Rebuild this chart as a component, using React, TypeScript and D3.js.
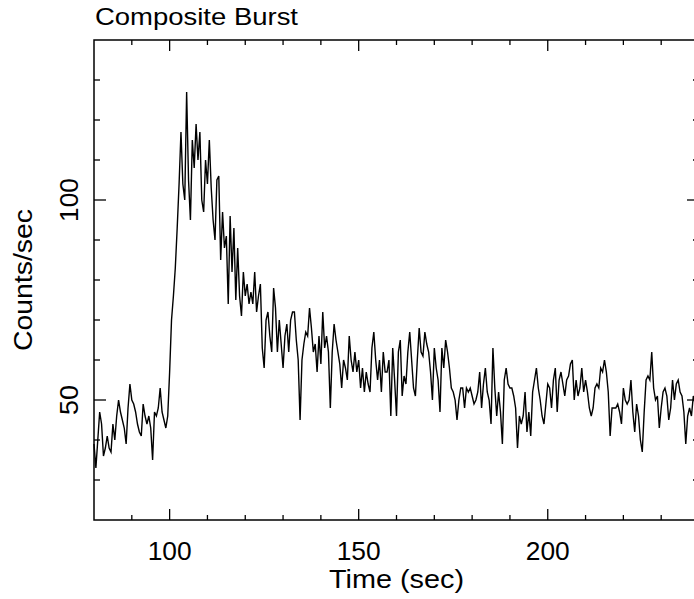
import React from 'react';
import * as d3 from 'd3';

const width = 694;
const height = 599;

// light curve, 0.5 s bins starting at t = 80 s
const binStart = 80;
const binWidth = 0.5;
const counts = [
  39, 33, 40, 47, 44, 36, 38, 41, 38, 37, 44, 40, 46, 50, 47, 45, 43, 39, 48, 54,
  50, 49, 47, 44, 42, 41, 49, 46, 44, 46, 43, 35, 47, 46, 48, 53, 47, 45, 43, 46,
  57, 70, 76, 83, 93, 104, 117, 104, 100, 127, 105, 95, 115, 108, 119, 110, 117, 100, 97, 110,
  104, 115, 103, 95, 90, 105, 106, 85, 97, 88, 91, 74, 96, 82, 93, 75, 88, 76, 71, 82,
  76, 79, 74, 77, 74, 82, 72, 76, 79, 63, 58, 70, 72, 66, 62, 78, 73, 62, 70, 64,
  58, 66, 69, 62, 70, 72, 72, 65, 60, 45, 60, 64, 67, 66, 73, 68, 62, 64, 57, 66,
  59, 72, 63, 66, 62, 48, 62, 69, 65, 62, 59, 53, 60, 58, 55, 66, 60, 57, 62, 57,
  60, 53, 58, 52, 57, 54, 52, 63, 67, 60, 55, 60, 52, 62, 57, 57, 60, 46, 63, 55,
  46, 62, 65, 51, 56, 54, 62, 67, 60, 53, 51, 60, 68, 62, 61, 67, 64, 62, 57, 50,
  63, 58, 55, 47, 63, 58, 65, 62, 58, 53, 52, 50, 45, 50, 53, 53, 48, 53, 52, 53,
  51, 49, 50, 52, 57, 48, 54, 58, 52, 50, 44, 63, 53, 46, 52, 47, 39, 55, 58, 54,
  53, 53, 51, 48, 38, 46, 44, 46, 52, 42, 47, 41, 52, 55, 58, 53, 50, 46, 44, 49,
  54, 53, 48, 55, 58, 47, 55, 57, 54, 51, 55, 56, 59, 60, 50, 55, 51, 53, 58, 52,
  55, 52, 48, 46, 48, 53, 54, 53, 58, 57, 60, 57, 52, 41, 48, 48, 48, 49, 47, 44,
  53, 50, 49, 50, 55, 47, 42, 49, 46, 40, 37, 47, 55, 56, 55, 62, 53, 50, 51, 43,
  48, 52, 53, 51, 45, 48, 55, 50, 54, 55, 52, 51, 47, 39, 46, 48, 46, 51, 49, 48
];

const xDomain = [80, 240];
const yDomain = [20, 140];
const xLabels = [100, 150, 200];
const yLabels = [50, 100];

const title = 'Composite Burst';
const xTitle = 'Time (sec)';
const yTitle = 'Counts/sec';

// thin strokes, closer to the plotter font of the original
const font = '"DejaVu Sans ExtraLight", "Liberation Sans", Arial, sans-serif';

export default function App() {
  const x = d3.scaleLinear().domain(xDomain).range([94, 699]);
  const y = d3.scaleLinear().domain(yDomain).range([520, 40]);

  const points = counts.map((c, i) => [binStart + i * binWidth, c]);
  const line = d3
    .line()
    .x(d => x(d[0]))
    .y(d => y(d[1]));

  const [x0, x1] = x.range();
  const [y0, y1] = y.range();

  const xMinor = d3.range(90, 240, 10);
  const yMinor = d3.range(30, 140, 10);

  return (
    <svg
      width={width}
      height={height}
      style={{ position: 'absolute', left: 0, top: 0, background: '#fff' }}
    >
      {/* frame */}
      <rect
        x={x0}
        y={y1}
        width={x1 - x0}
        height={y0 - y1}
        fill="none"
        stroke="#000"
        strokeWidth={1.5}
      />

      {/* ticks on all four sides */}
      <g stroke="#000" strokeWidth={1.3}>
        {xMinor.map(v => {
          const len = v % 50 === 0 ? 11 : 5;
          return (
            <g key={'xt' + v}>
              <line x1={x(v)} x2={x(v)} y1={y0} y2={y0 - len} />
              <line x1={x(v)} x2={x(v)} y1={y1} y2={y1 + len} />
            </g>
          );
        })}
        {yMinor.map(v => {
          const len = v % 50 === 0 ? 12 : 6;
          return (
            <g key={'yt' + v}>
              <line x1={x0} x2={x0 + len} y1={y(v)} y2={y(v)} />
              <line x1={x1} x2={x1 - len} y1={y(v)} y2={y(v)} />
            </g>
          );
        })}
      </g>

      {/* data */}
      <path
        d={line(points)}
        fill="none"
        stroke="#000"
        strokeWidth={1.4}
        strokeLinejoin="miter"
      />

      {/* tick labels */}
      <g fontFamily={font} fontSize={26} fill="#000">
        {xLabels.map(v => (
          <text
            key={'xl' + v}
            x={x(v)}
            y={560}
            textAnchor="middle"
            textLength={44}
            lengthAdjust="spacingAndGlyphs"
          >
            {v}
          </text>
        ))}
        {yLabels.map(v => (
          <text
            key={'yl' + v}
            transform={`translate(78, ${y(v)}) rotate(-90)`}
            textAnchor="middle"
            textLength={v >= 100 ? 44 : 30}
            lengthAdjust="spacingAndGlyphs"
          >
            {v}
          </text>
        ))}
      </g>

      {/* titles */}
      <text
        x={95}
        y={25}
        fontFamily={font}
        fontSize={24}
        textLength={203}
        lengthAdjust="spacingAndGlyphs"
      >
        {title}
      </text>
      <text
        x={(x0 + x1) / 2}
        y={588}
        textAnchor="middle"
        fontFamily={font}
        fontSize={26}
        textLength={135}
        lengthAdjust="spacingAndGlyphs"
      >
        {xTitle}
      </text>
      <text
        transform={`translate(32, ${(y0 + y1) / 2}) rotate(-90)`}
        textAnchor="middle"
        fontFamily={font}
        fontSize={26}
        textLength={142}
        lengthAdjust="spacingAndGlyphs"
      >
        {yTitle}
      </text>
    </svg>
  );
}
